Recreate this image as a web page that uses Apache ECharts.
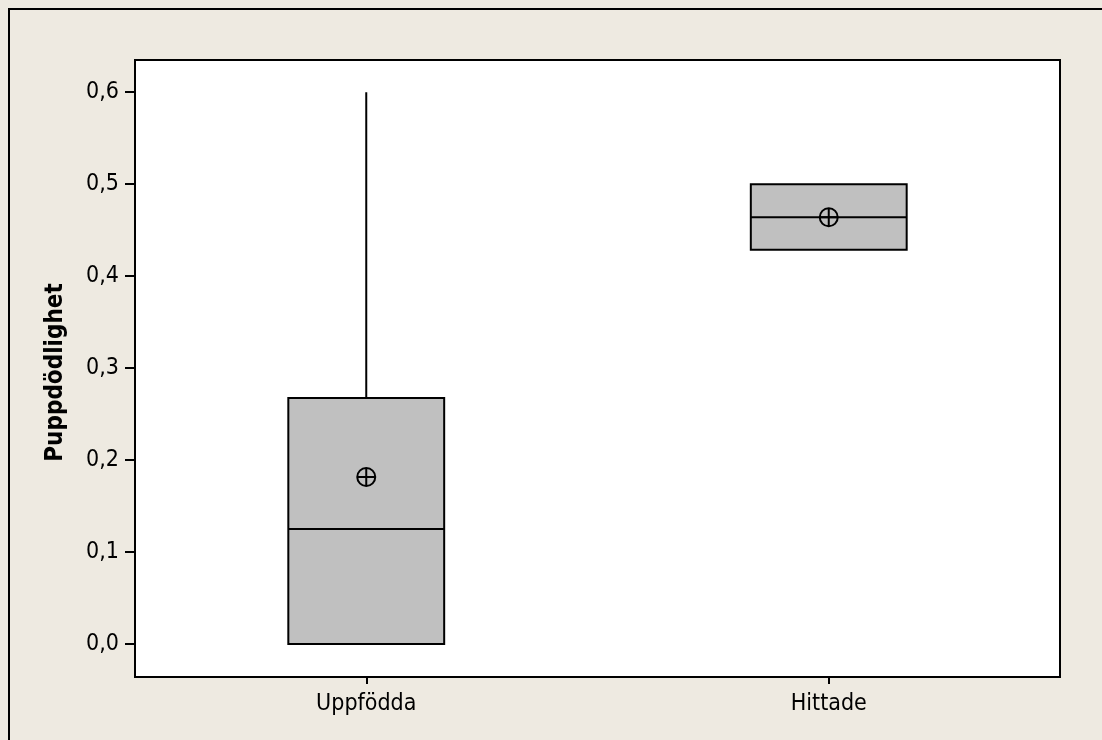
<!DOCTYPE html>
<html>
<head>
<meta charset="utf-8">
<script src="https://cdn.jsdelivr.net/npm/echarts@6/dist/echarts.min.js"></script>
<style>
html,body{margin:0;padding:0;background:#EEEAE1;}
#chart{width:1102px;height:740px;}
</style>
</head>
<body>
<div id="chart"></div>
<script>
// Data
const categories = ['Uppfödda', 'Hittade'];
const whiskerMin = [0.0, 0.4286];
const quartile1 = [0.0, 0.4286];
const medians = [0.125, 0.464];
const quartile3 = [0.2674, 0.5];
const whiskerMax = [0.6, 0.5];
const means = [0.1815, 0.464];
const yTicks = [0, 0.1, 0.2, 0.3, 0.4, 0.5, 0.6];
const yTickLabels = ['0,0', '0,1', '0,2', '0,3', '0,4', '0,5', '0,6'];
const yAxisTitle = 'Puppdödlighet';

const boxData = categories.map((c, i) => [i, whiskerMin[i], quartile1[i], medians[i], quartile3[i], whiskerMax[i], means[i]]);

const FONT = '"DejaVu Sans Condensed", "DejaVu Sans", sans-serif';
const chart = echarts.init(document.getElementById('chart'));

function renderBox(params, api) {
  const x = api.value(0);
  const pMin = api.coord([x, api.value(1)]);
  const pQ1 = api.coord([x, api.value(2)]);
  const pMed = api.coord([x, api.value(3)]);
  const pQ3 = api.coord([x, api.value(4)]);
  const pMax = api.coord([x, api.value(5)]);
  const pMean = api.coord([x, api.value(6)]);
  const band = api.size([1, 0])[0];
  const w = band * 0.337;
  const cx = pMed[0];
  const lineStyle = { stroke: '#000', lineWidth: 2, fill: null };
  const children = [];
  if (pMax[1] < pQ3[1] - 0.5) {
    children.push({ type: 'line', shape: { x1: cx, y1: pQ3[1], x2: cx, y2: pMax[1] }, style: lineStyle });
  }
  if (pMin[1] > pQ1[1] + 0.5) {
    children.push({ type: 'line', shape: { x1: cx, y1: pQ1[1], x2: cx, y2: pMin[1] }, style: lineStyle });
  }
  children.push({ type: 'rect', shape: { x: cx - w / 2, y: pQ3[1], width: w, height: pQ1[1] - pQ3[1] },
    style: { fill: '#C0C0C0', stroke: '#000', lineWidth: 2 } });
  children.push({ type: 'line', shape: { x1: cx - w / 2, y1: pMed[1], x2: cx + w / 2, y2: pMed[1] }, style: lineStyle });
  const r = 9;
  children.push({ type: 'circle', shape: { cx: pMean[0], cy: pMean[1], r: r }, style: { fill: null, stroke: '#000', lineWidth: 2 } });
  children.push({ type: 'line', shape: { x1: pMean[0] - r, y1: pMean[1], x2: pMean[0] + r, y2: pMean[1] }, style: lineStyle });
  children.push({ type: 'line', shape: { x1: pMean[0], y1: pMean[1] - r, x2: pMean[0], y2: pMean[1] + r }, style: lineStyle });
  return { type: 'group', children: children };
}

chart.setOption({
  backgroundColor: '#EEEAE1',
  animation: false,
  graphic: [{
    type: 'rect', left: 8, top: 8, z: -10,
    shape: { x: 0, y: 0, width: 1200, height: 900 },
    style: { fill: '#EEEAE1', stroke: '#000', lineWidth: 2 }
  }],
  grid: {
    left: 135, right: 42, top: 60, bottom: 63,
    show: true, backgroundColor: '#fff', borderColor: '#000', borderWidth: 2
  },
  xAxis: {
    type: 'category',
    data: categories,
    boundaryGap: true,
    axisLine: { show: true, onZero: false, lineStyle: { color: '#000', width: 2 } },
    axisTick: { show: true, alignWithLabel: true, length: 7, lineStyle: { color: '#000', width: 2 } },
    axisLabel: { color: '#000', fontFamily: FONT, fontSize: 23, margin: 16 },
    splitLine: { show: false }
  },
  yAxis: {
    type: 'value',
    min: -0.036, max: 0.635,
    name: yAxisTitle,
    nameLocation: 'middle',
    nameGap: 67,
    nameTextStyle: { color: '#000', fontFamily: FONT, fontSize: 24, fontWeight: 'bold', padding: [0, 8, 0, 0] },
    axisLine: { show: true, onZero: false, lineStyle: { color: '#000', width: 2 } },
    axisTick: { show: true, length: 10, customValues: yTicks, lineStyle: { color: '#000', width: 2 } },
    axisLabel: {
      color: '#000', fontFamily: FONT, fontSize: 23, margin: 16,
      customValues: yTicks,
      formatter: function (v) {
        const i = yTicks.findIndex(t => Math.abs(t - v) < 1e-9);
        return i >= 0 ? yTickLabels[i] : '';
      }
    },
    splitLine: { show: false }
  },
  series: [{
    type: 'custom',
    renderItem: renderBox,
    data: boxData,
    encode: { x: 0, y: [1, 2, 3, 4, 5, 6] },
    clip: false
  }]
});
</script>
</body>
</html>
